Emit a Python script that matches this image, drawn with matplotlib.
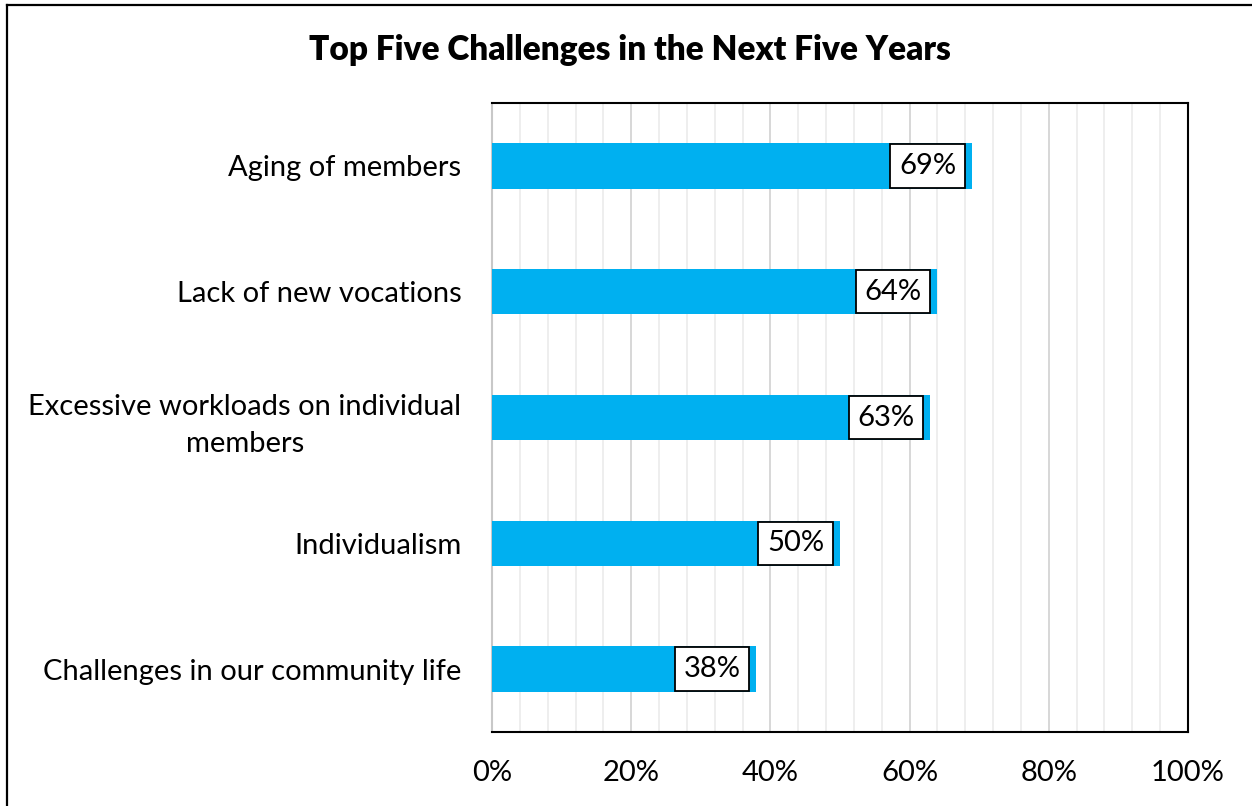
import matplotlib.pyplot as plt
from matplotlib.lines import Line2D
from matplotlib.ticker import MultipleLocator, FuncFormatter

# Datos del gráfico
categorias = ['Aging of members', 'Lack of new vocations',
              'Excessive workloads on individual\nmembers',
              'Individualism', 'Challenges in our community life']
valores = [69, 64, 63, 50, 38]
titulo = 'Top Five Challenges in the Next Five Years'

plt.rcParams['font.family'] = ['Lato', 'DejaVu Sans']

fig = plt.figure(figsize=(12.52, 8.06), dpi=100)
ax = fig.add_axes([492 / 1252, 1 - 732 / 806, 696 / 1252, 629 / 806])

posiciones = list(range(len(categorias)))[::-1]
ax.barh(posiciones, valores, height=0.36, color='#00B0F0', zorder=3)

# Etiquetas con caja dentro del extremo de cada barra
for y, v in zip(posiciones, valores):
    ax.annotate(f'{v}%', xy=(v, y), xytext=(-11.5, 0), textcoords='offset points',
                ha='right', va='center', fontsize=21, color='black', zorder=4,
                bbox=dict(boxstyle='square,pad=0.3', fc='white', ec='black', lw=1.3))

ax.set_xlim(0, 100)
ax.set_ylim(-0.5, len(categorias) - 0.5)
ax.set_yticks(posiciones)
ax.set_yticklabels(categorias, fontsize=21, multialignment='center', linespacing=1.5)
ax.xaxis.set_major_locator(MultipleLocator(20))
ax.xaxis.set_minor_locator(MultipleLocator(4))
ax.xaxis.set_major_formatter(FuncFormatter(lambda x, _: f'{x:.0f}%'))
ax.tick_params(axis='x', which='both', length=0, labelsize=21, pad=20)
ax.tick_params(axis='y', length=0, pad=22)

ax.grid(axis='x', which='major', color='#d4d4d4', lw=1.3, zorder=1)
ax.grid(axis='x', which='minor', color='#ededed', lw=1.3, zorder=0)

for lado in ['top', 'right', 'bottom']:
    ax.spines[lado].set_color('black')
    ax.spines[lado].set_linewidth(1.5)
ax.spines['left'].set_color('#c8c8c8')
ax.spines['left'].set_linewidth(1.5)

fig.text(630 / 1252, 1 - 50 / 806, titulo, ha='center', va='center',
         fontsize=24, fontweight='heavy')

# Marco exterior: solo se ven los bordes superior e izquierdo
x0 = 7 / 1252
y0 = 1 - 5 / 806
fig.add_artist(Line2D([x0, x0], [0, y0], transform=fig.transFigure,
                      color='black', lw=1.6, solid_capstyle='projecting'))
fig.add_artist(Line2D([x0, 1], [y0, y0], transform=fig.transFigure,
                      color='black', lw=1.6, solid_capstyle='projecting'))

fig.savefig('out.png', dpi=100)
